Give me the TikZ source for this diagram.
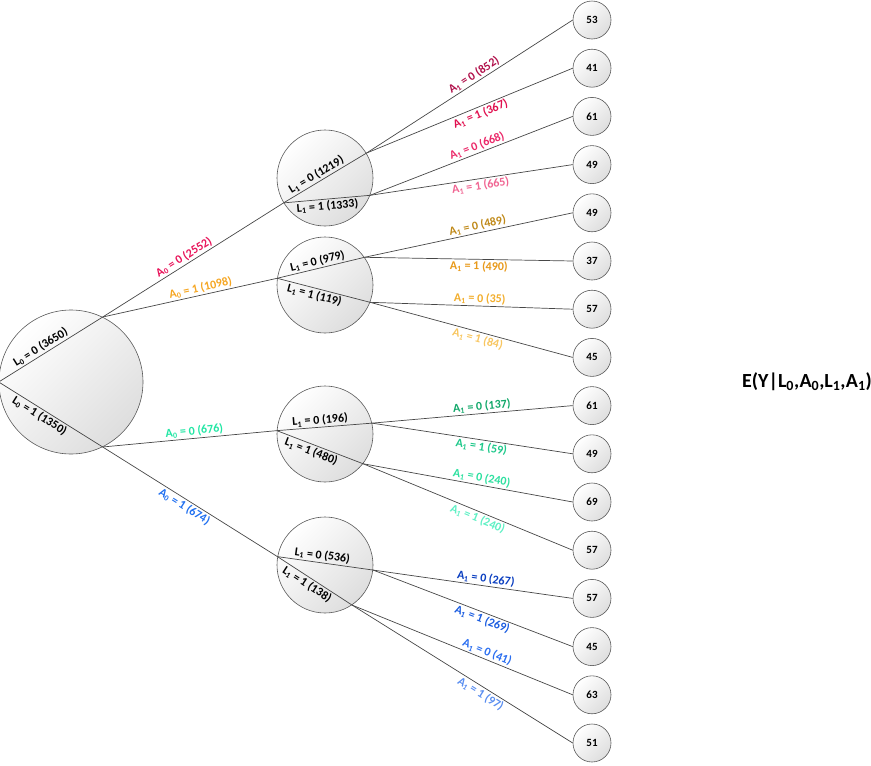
\documentclass[tikz,border=0pt]{standalone}
\usepackage{fontspec}
\setmainfont{Carlito}
\usetikzlibrary{shadows}

% label colours
\definecolor{aA}{HTML}{E8145A}
\definecolor{aB}{HTML}{F5A623}
\definecolor{aC}{HTML}{22E6A4}
\definecolor{aD}{HTML}{1F6FF0}
\definecolor{pA}{HTML}{B0104A}
\definecolor{pB}{HTML}{E0104F}
\definecolor{pC}{HTML}{EB2A6A}
\definecolor{pD}{HTML}{F06592}
\definecolor{oA}{HTML}{C08A1A}
\definecolor{oB}{HTML}{E89A1C}
\definecolor{oC}{HTML}{F2AE2E}
\definecolor{oD}{HTML}{F8C660}
\definecolor{gA}{HTML}{12A86A}
\definecolor{gB}{HTML}{1EC88A}
\definecolor{gC}{HTML}{2EE0A0}
\definecolor{gD}{HTML}{5EF0C4}
\definecolor{bA}{HTML}{0A3EC0}
\definecolor{bB}{HTML}{1A5CE0}
\definecolor{bC}{HTML}{2A6EF0}
\definecolor{bD}{HTML}{5A8EF0}

\newcommand{\ix}[1]{\textsubscript{#1}}

\begin{document}
\begin{tikzpicture}[x=1pt,y=-1pt,
  edge/.style={draw=black!72, line width=0.7pt},
  ball/.style={circle, draw=black!65, line width=0.6pt, inner sep=0pt,
    top color=white, bottom color=black!13, shading angle=45},
  leaf/.style={ball, minimum size=38pt,
    font=\fontsize{11}{12}\selectfont\bfseries},
  lab/.style={font=\fontsize{12}{13}\selectfont\bfseries, sloped, inner sep=1.5pt},
]
\useasboundingbox (0,0) rectangle (871,766);

% root and second-level circles
\node[ball, minimum size=144pt] (root) at (71,382) {};
\node[ball, minimum size=96pt] (c1) at (325,178) {};
\node[ball, minimum size=96pt] (c2) at (325,285) {};
\node[ball, minimum size=96pt] (c3) at (325,434) {};
\node[ball, minimum size=96pt] (c4) at (325,565) {};

% outcome leaves
\foreach \v [count=\i from 0] in {53,41,61,49,49,37,57,45,61,49,69,57,57,45,63,51}
  \node[leaf] (leaf\i) at (592,{20+48.2*\i}) {\v};

% L0 chords
\draw[edge] (root.180) -- (root.64)
  node[lab, above, pos=0.44] {L\ix{0} = 0 (3650)};
\draw[edge] (root.180) -- (root.-64)
  node[lab, below, pos=0.43] {L\ix{0} = 1 (1350)};

% A0 branches
\draw[edge] (root.64) -- (c1.211)
  node[lab, above, pos=0.47, text=aA] {A\ix{0} = 0 (2552)};
\draw[edge] (root.64) -- (c2.172)
  node[lab, above, pos=0.57, text=aB] {A\ix{0} = 1 (1098)};
\draw[edge] (root.-64) -- (c3.176)
  node[lab, above, pos=0.53, text=aC] {A\ix{0} = 0 (676)};
\draw[edge] (root.-64) -- (c4.170)
  node[lab, below, pos=0.49, text=aD] {A\ix{0} = 1 (674)};

% L1 chords
\draw[edge] (c1.211) -- (c1.31)
  node[lab, above, pos=0.44] {L\ix{1} = 0 (1219)};
\draw[edge] (c1.211) -- (c1.-21)
  node[lab, below, pos=0.5] {L\ix{1} = 1 (1333)};
\draw[edge] (c2.172) -- (c2.35)
  node[lab, above, pos=0.48] {L\ix{1} = 0 (979)};
\draw[edge] (c2.172) -- (c2.-21)
  node[lab, below, pos=0.42] {L\ix{1} = 1 (119)};
\draw[edge] (c3.176) -- (c3.13)
  node[lab, above, pos=0.46] {L\ix{1} = 0 (196)};
\draw[edge] (c3.176) -- (c3.-38)
  node[lab, below, pos=0.43] {L\ix{1} = 1 (480)};
\draw[edge] (c4.170) -- (c4.-6)
  node[lab, above, pos=0.46] {L\ix{1} = 0 (536)};
\draw[edge] (c4.170) -- (c4.-56)
  node[lab, below, pos=0.45] {L\ix{1} = 1 (138)};

% A1 branches
\draw[edge] (c1.31) -- (leaf0.west)
  node[lab, above, pos=0.54, text=pA] {A\ix{1} = 0 (852)};
\draw[edge] (c1.31) -- (leaf1.west)
  node[lab, below, pos=0.54, text=pB] {A\ix{1} = 1 (367)};
\draw[edge] (c1.-21) -- (leaf2.west)
  node[lab, above, pos=0.54, text=pC] {A\ix{1} = 0 (668)};
\draw[edge] (c1.-21) -- (leaf3.west)
  node[lab, below, pos=0.54, text=pD] {A\ix{1} = 1 (665)};

\draw[edge] (c2.35) -- (leaf4.west)
  node[lab, above, pos=0.55, text=oA] {A\ix{1} = 0 (489)};
\draw[edge] (c2.35) -- (leaf5.west)
  node[lab, below, pos=0.55, text=oB] {A\ix{1} = 1 (490)};
\draw[edge] (c2.-21) -- (leaf6.west)
  node[lab, above, pos=0.54, text=oC] {A\ix{1} = 0 (35)};
\draw[edge] (c2.-21) -- (leaf7.west)
  node[lab, below, pos=0.54, text=oD] {A\ix{1} = 1 (84)};

\draw[edge] (c3.13) -- (leaf8.west)
  node[lab, above, pos=0.55, text=gA] {A\ix{1} = 0 (137)};
\draw[edge] (c3.13) -- (leaf9.west)
  node[lab, below, pos=0.55, text=gB] {A\ix{1} = 1 (59)};
\draw[edge] (c3.-38) -- (leaf10.west)
  node[lab, above, pos=0.56, text=gC] {A\ix{1} = 0 (240)};
\draw[edge] (c3.-38) -- (leaf11.west)
  node[lab, below, pos=0.56, text=gD] {A\ix{1} = 1 (240)};

\draw[edge] (c4.-6) -- (leaf12.west)
  node[lab, above, pos=0.56, text=bA] {A\ix{1} = 0 (267)};
\draw[edge] (c4.-6) -- (leaf13.west)
  node[lab, below, pos=0.56, text=bB] {A\ix{1} = 1 (269)};
\draw[edge] (c4.-56) -- (leaf14.west)
  node[lab, above, pos=0.6, text=bC] {A\ix{1} = 0 (41)};
\draw[edge] (c4.-56) -- (leaf15.west)
  node[lab, below, pos=0.6, text=bD] {A\ix{1} = 1 (97)};

% outcome heading
\node[font=\fontsize{20}{22}\selectfont\bfseries] (head) at (807,382)
  {E(Y|L\ix{0},A\ix{0},L\ix{1},A\ix{1})};
\end{tikzpicture}
\end{document}
